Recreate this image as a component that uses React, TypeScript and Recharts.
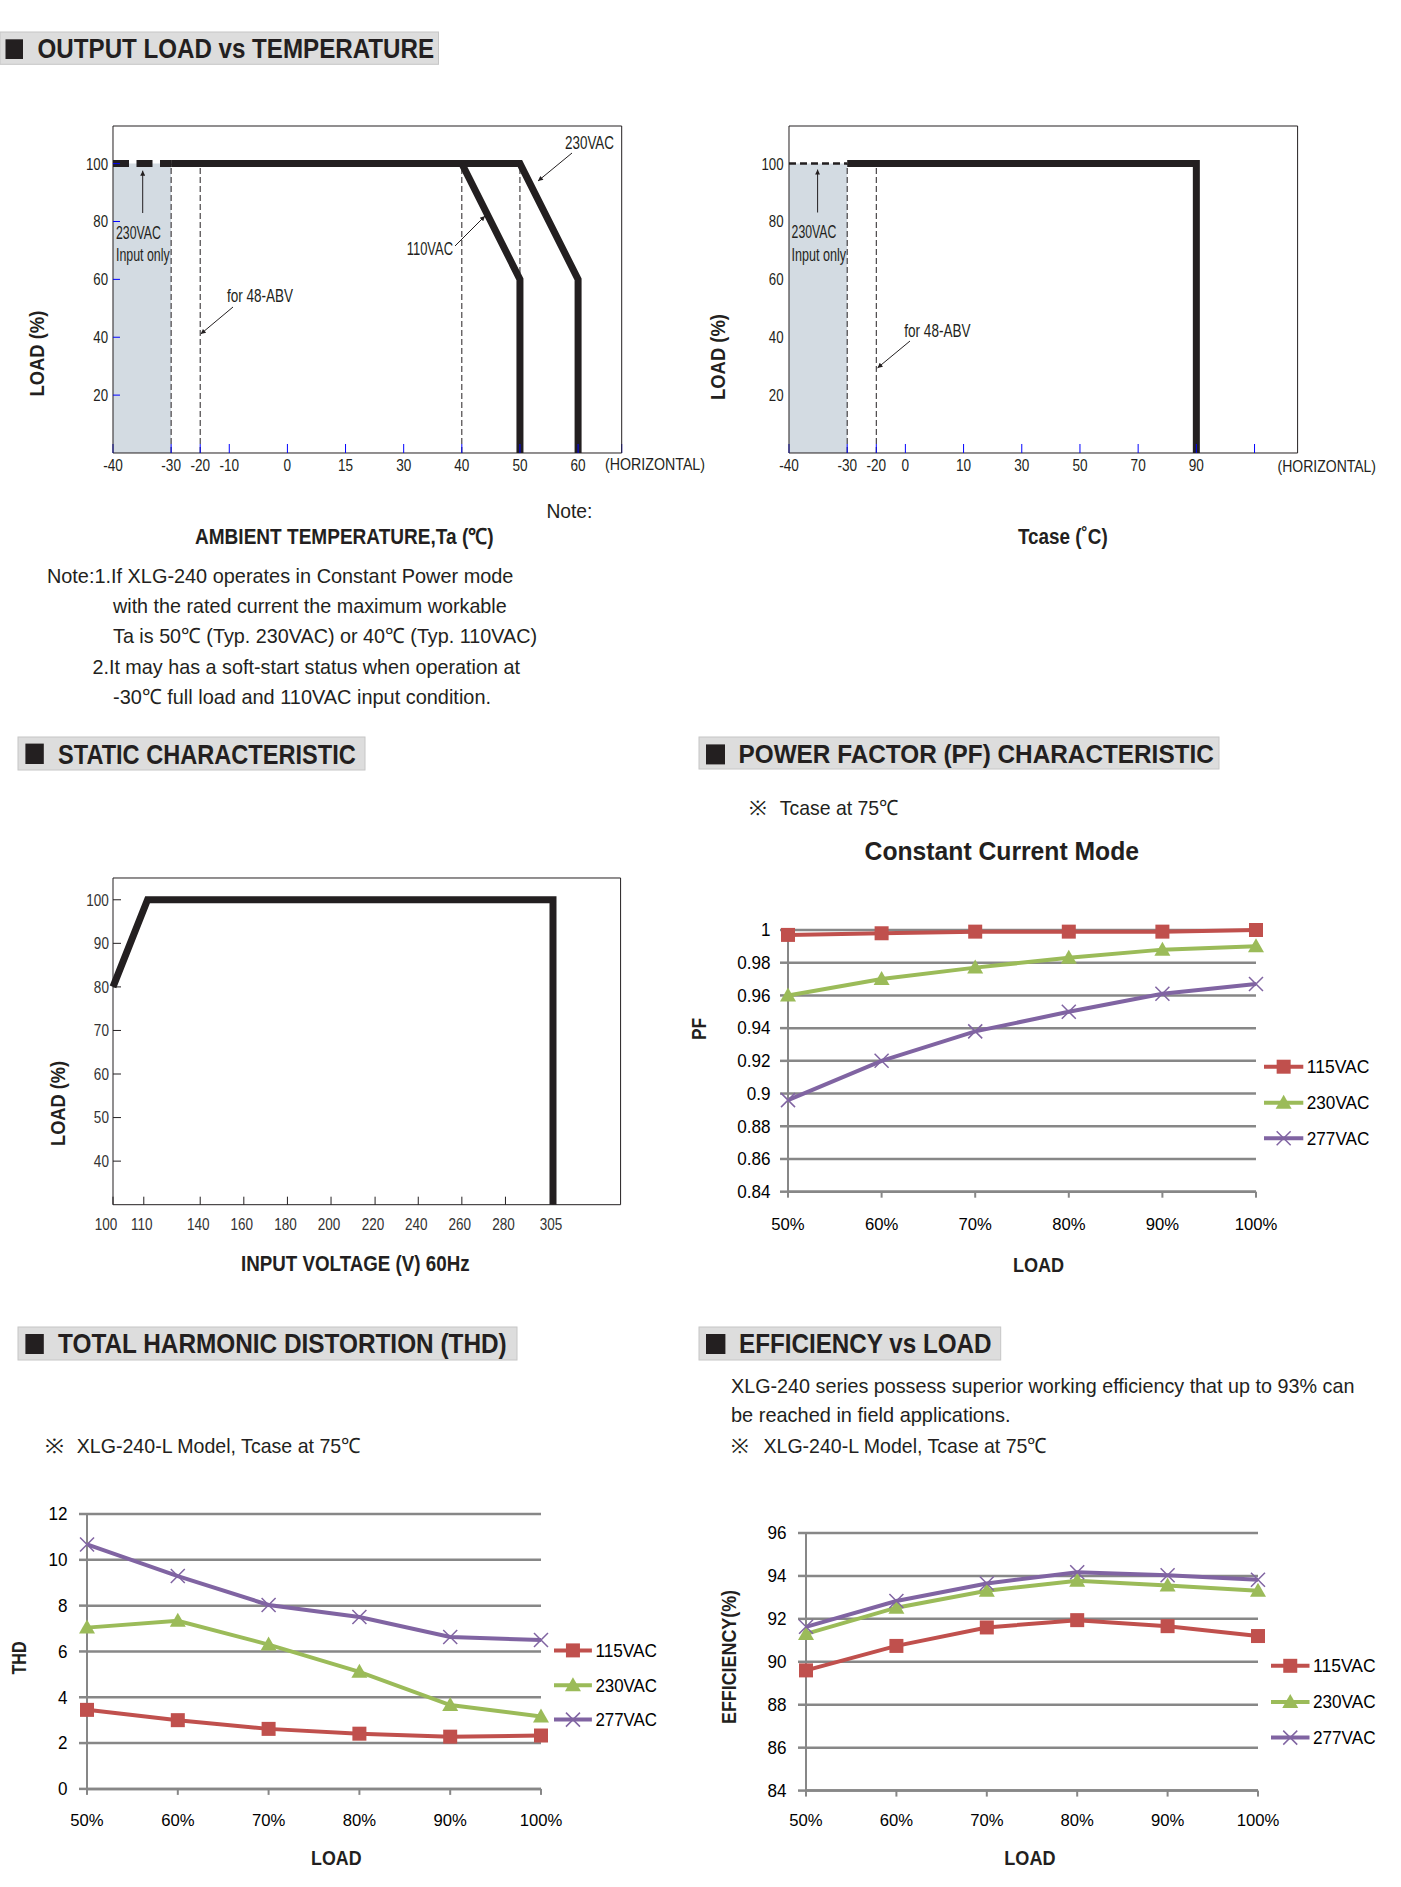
import React from 'react';
import {
    LineChart,
    Line,
    XAxis,
    YAxis,
    CartesianGrid,
    ReferenceLine,
    ReferenceArea,
    Legend,
} from 'recharts';

// colours
const INK = '#231f20';
const BLUE = '#0000ff';
const SHADE = '#d3dbe2';
const GRID = '#878787';
const RED = '#c0504d';
const GREEN = '#9bbb59';
const PURPLE = '#8064a2';
const FONT = '"Liberation Sans", Arial, Helvetica, sans-serif';

// ---- OUTPUT LOAD vs TEMPERATURE (ambient). The printed axis is not linear,
// every tick sits in its own slot, so values are mapped slot by slot.
const taTicks = [-40, -30, -20, -10, 0, 15, 30, 40, 50, 60];
const taSlots = [0, 1, 1.5, 2, 3, 4, 5, 6, 7, 8];
const taColdTemp = [-40, -30];
const taColdLoad = [100, 100];
const ta230Temp = [-30, 50, 60, 60];
const ta230Load = [100, 100, 60, 0];
const ta110Temp = [40, 50, 50];
const ta110Load = [100, 60, 0];
const taGuides = [-30, -20, 40, 50];
const loadTicks = [20, 40, 60, 80, 100];

// ---- OUTPUT LOAD vs Tcase
const tcTicks = [-40, -30, -20, 0, 10, 30, 50, 70, 90];
const tcSlots = [0, 1, 1.5, 2, 3, 4, 5, 6, 7];
const tcColdTemp = [-40, -30];
const tcColdLoad = [100, 100];
const tcTemp = [-30, 90, 90];
const tcLoad = [100, 100, 0];
const tcGuides = [-30, -20];

// ---- STATIC CHARACTERISTIC
const vinTicks = [100, 110, 140, 160, 180, 200, 220, 240, 260, 280, 305];
const vinSlots = [0, 0.706, 2, 3, 4, 5, 6.01, 7, 8, 9, 10.09];
const vinVolt = [100, 112, 305, 305];
const vinLoad = [80, 100, 100, 30];
const staticTicks = [40, 50, 60, 70, 80, 90, 100];

// ---- PF / THD / EFFICIENCY vs load
const loadPct = [50, 60, 70, 80, 90, 100];
const pf115 = [0.997, 0.998, 0.999, 0.999, 0.999, 1.0];
const pf230 = [0.96, 0.97, 0.977, 0.983, 0.988, 0.99];
const pf277 = [0.896, 0.92, 0.938, 0.95, 0.961, 0.967];
const pfTicks = [0.84, 0.86, 0.88, 0.9, 0.92, 0.94, 0.96, 0.98, 1];
const thd115 = [3.45, 3.0, 2.62, 2.41, 2.28, 2.33];
const thd230 = [7.04, 7.34, 6.3, 5.11, 3.66, 3.16];
const thd277 = [10.67, 9.29, 8.03, 7.5, 6.63, 6.5];
const thdTicks = [0, 2, 4, 6, 8, 10, 12];
const eff115 = [89.6, 90.74, 91.6, 91.94, 91.66, 91.2];
const eff230 = [91.3, 92.52, 93.31, 93.77, 93.55, 93.31];
const eff277 = [91.63, 92.83, 93.65, 94.17, 94.03, 93.82];
const effTicks = [84, 86, 88, 90, 92, 94, 96];

const series = [
    { key: 'a', name: '115VAC', color: RED, kind: 'square' },
    { key: 'b', name: '230VAC', color: GREEN, kind: 'triangle' },
    { key: 'c', name: '277VAC', color: PURPLE, kind: 'cross' },
];

// helpers
const toSlot = (ticks: number[], slots: number[]) => (v: number) => {
    for (let i = 0; i < ticks.length - 1; i++) {
        if (v <= ticks[i + 1]) {
            return slots[i] + ((v - ticks[i]) / (ticks[i + 1] - ticks[i])) * (slots[i + 1] - slots[i]);
        }
    }
    return slots[slots.length - 1];
};
const slotLabel = (ticks: number[], slots: number[]) => (v: number) => {
    const i = slots.findIndex((s) => Math.abs(s - v) < 1e-6);
    return i < 0 ? '' : String(ticks[i]);
};
const pts = (xs: number[], ys: number[], f: (v: number) => number) =>
    xs.map((x, i) => ({ x: f(x), y: ys[i] }));
const byLoad = (a: number[], b: number[], c: number[]) =>
    loadPct.map((x, i) => ({ x, a: a[i], b: b[i], c: c[i] }));

const taSlot = toSlot(taTicks, taSlots);
const tcSlot = toSlot(tcTicks, tcSlots);
const vinSlot = toSlot(vinTicks, vinSlots);

type Box = { l: number; t: number; r: number; b: number };
const place = (p: Box, pad: Box) => ({
    left: p.l - pad.l,
    top: p.t - pad.t,
    width: p.r - p.l + pad.l + pad.r,
    height: p.b - p.t + pad.t + pad.b,
});

const narrowTick = (
    fmt: (v: number) => string,
    size: number,
    sx: number,
    fill = INK,
    shift: (v: number) => number = () => 0,
) => (p: any) => (
    <text
        transform={`translate(${p.x + shift(p.payload.value)},${p.y}) scale(${sx},1)`}
        textAnchor={p.textAnchor}
        dy="0.35em"
        fontSize={size}
        fontFamily={FONT}
        fill={fill}
    >
        {fmt(p.payload.value)}
    </text>
);
const noTick = () => <g />;

const Marker = ({ cx, cy, kind, color }: any) => {
    if (cx == null || cy == null) return null;
    if (kind === 'square') return <rect x={cx - 7} y={cy - 7} width={14} height={14} fill={color} />;
    if (kind === 'triangle')
        return <polygon points={`${cx},${cy - 8} ${cx + 8},${cy + 6} ${cx - 8},${cy + 6}`} fill={color} />;
    return (
        <g stroke={color} strokeWidth={1.5}>
            <line x1={cx - 7} y1={cy - 7} x2={cx + 7} y2={cy + 7} />
            <line x1={cx - 7} y1={cy + 7} x2={cx + 7} y2={cy - 7} />
        </g>
    );
};
const markerDot = (kind: string, color: string) => (p: any) => (
    <Marker key={`m${p.index}`} cx={p.cx} cy={p.cy} kind={kind} color={color} />
);

const legendContent = (rows: number[], lineLen: number, labelW: number) => () => (
    <svg width={130} height={rows[rows.length - 1] + 20} style={{ display: 'block', overflow: 'visible' }}>
        {series.map((s, i) => (
            <g key={s.name}>
                <line x1={0} x2={lineLen} y1={rows[i]} y2={rows[i]} stroke={s.color} strokeWidth={4} />
                <Marker cx={lineLen / 2} cy={rows[i]} kind={s.kind} color={s.color} />
                <text
                    x={lineLen + 3.5}
                    y={rows[i]}
                    dy="0.35em"
                    fontSize={18}
                    fontFamily={FONT}
                    textLength={labelW}
                    lengthAdjust="spacingAndGlyphs"
                    fill="#000"
                >
                    {s.name}
                </text>
            </g>
        ))}
    </svg>
);

// text on the page overlay, squeezed to the width it has in the datasheet
const T = ({ x, y, w, size, bold, anchor, rot, children }: any) => (
    <text
        x={x}
        y={y}
        dy="0.35em"
        fontSize={size}
        fontWeight={bold ? 700 : 400}
        textLength={w}
        lengthAdjust="spacingAndGlyphs"
        textAnchor={anchor || 'start'}
        fill={INK}
        transform={rot ? `rotate(-90 ${x} ${y})` : undefined}
    >
        {children}
    </text>
);

const Header = ({ x, y, w, h, sq, tx, tw, size, children }: any) => (
    <g>
        <rect x={x} y={y} width={w} height={h} fill="#dddddd" stroke="#c6c6c6" />
        <rect x={sq[0]} y={sq[1]} width={sq[2]} height={sq[3]} fill={INK} />
        <T x={tx} y={y + h / 2 + 0.5} w={tw} size={size} bold>
            {children}
        </T>
    </g>
);

const Arrow = ({ x1, y1, x2, y2 }: any) => (
    <line x1={x1} y1={y1} x2={x2} y2={y2} stroke={INK} strokeWidth={1} markerEnd="url(#ah)" />
);

// ---------------- charts ----------------
const noMargin = { top: 0, right: 0, bottom: 0, left: 0 };

function AmbientChart() {
    const p = { l: 113.3, t: 125.5, r: 622, b: 452.5 };
    const g = place(p, { l: 60, t: 10, r: 20, b: 40 });
    const max = 8.75;
    return (
        <div style={{ position: 'absolute', left: g.left, top: g.top }}>
            <LineChart width={g.width} height={g.height} margin={noMargin}>
                <XAxis dataKey="x" type="number" domain={[0, max]} ticks={[...taSlots, max]} interval={0} height={40}
                    axisLine={{ stroke: INK }} tickLine={{ stroke: BLUE }} tickSize={-9} tickMargin={20.8}
                    tick={narrowTick(slotLabel(taTicks, taSlots), 17, 0.8)} />
                <XAxis xAxisId="top" orientation="top" type="number" domain={[0, max]} height={10}
                    axisLine={{ stroke: INK }} tickLine={false} tick={noTick} />
                <YAxis type="number" domain={[0, 113]} ticks={loadTicks} interval={0} width={60}
                    axisLine={{ stroke: INK }} tickLine={{ stroke: BLUE }} tickSize={-7} tickMargin={11.9}
                    tick={narrowTick(String, 17, 0.78)} />
                <YAxis yAxisId="right" orientation="right" type="number" domain={[0, 113]} ticks={loadTicks}
                    interval={0} width={20} axisLine={{ stroke: INK }} tickLine={{ stroke: BLUE }} tickSize={-8}
                    tick={noTick} />
                <ReferenceArea x1={taSlot(-40)} x2={taSlot(-30)} y1={0} y2={100} fill={SHADE} fillOpacity={1}
                    stroke="none" />
                {taGuides.map((t) => (
                    <ReferenceLine key={t} segment={[{ x: taSlot(t), y: 0 }, { x: taSlot(t), y: 100 }]}
                        stroke={INK} strokeDasharray="6 3" />
                ))}
                <Line data={pts(taColdTemp, taColdLoad, taSlot)} dataKey="y" stroke={INK} strokeWidth={7}
                    strokeDasharray="16 7.5" dot={false} activeDot={false} isAnimationActive={false} />
                <Line data={pts(ta230Temp, ta230Load, taSlot)} dataKey="y" stroke={INK} strokeWidth={7}
                    dot={false} activeDot={false} isAnimationActive={false} />
                <Line data={pts(ta110Temp, ta110Load, taSlot)} dataKey="y" stroke={INK} strokeWidth={7}
                    dot={false} activeDot={false} isAnimationActive={false} />
            </LineChart>
        </div>
    );
}

function TcaseChart() {
    const p = { l: 789.4, t: 125.5, r: 1298, b: 452.5 };
    const g = place(p, { l: 60, t: 10, r: 20, b: 40 });
    const max = 8.74;
    return (
        <div style={{ position: 'absolute', left: g.left, top: g.top }}>
            <LineChart width={g.width} height={g.height} margin={noMargin}>
                <XAxis dataKey="x" type="number" domain={[0, max]} ticks={[...tcSlots, 8]} interval={0} height={40}
                    axisLine={{ stroke: INK }} tickLine={{ stroke: BLUE }} tickSize={-9} tickMargin={20.8}
                    tick={narrowTick(slotLabel(tcTicks, tcSlots), 17, 0.8)} />
                <XAxis xAxisId="top" orientation="top" type="number" domain={[0, max]} height={10}
                    axisLine={{ stroke: INK }} tickLine={false} tick={noTick} />
                <YAxis type="number" domain={[0, 113]} ticks={loadTicks} interval={0} width={60}
                    axisLine={{ stroke: INK }} tickLine={false} tickSize={0} tickMargin={5.4}
                    tick={narrowTick(String, 17, 0.78)} />
                <YAxis yAxisId="right" orientation="right" type="number" domain={[0, 113]} ticks={loadTicks}
                    interval={0} width={20} axisLine={{ stroke: INK }} tickLine={{ stroke: BLUE }} tickSize={-8}
                    tick={noTick} />
                <ReferenceArea x1={tcSlot(-40)} x2={tcSlot(-30)} y1={0} y2={100} fill={SHADE} fillOpacity={1}
                    stroke="none" />
                {tcGuides.map((t) => (
                    <ReferenceLine key={t} segment={[{ x: tcSlot(t), y: 0 }, { x: tcSlot(t), y: 100 }]}
                        stroke={INK} strokeDasharray="6 3" />
                ))}
                <Line data={pts(tcColdTemp, tcColdLoad, tcSlot)} dataKey="y" stroke={INK} strokeWidth={2.5}
                    strokeDasharray="7 4" dot={false} activeDot={false} isAnimationActive={false} />
                <Line data={pts(tcTemp, tcLoad, tcSlot)} dataKey="y" stroke={INK} strokeWidth={7}
                    dot={false} activeDot={false} isAnimationActive={false} />
            </LineChart>
        </div>
    );
}

function StaticChart() {
    const p = { l: 113.4, t: 878.3, r: 621, b: 1205 };
    const g = place(p, { l: 60, t: 10, r: 20, b: 40 });
    const max = 11.64;
    // the printed labels sit a little left of their ticks, the first one more so
    const shift = (v: number) => (v === 0 ? -7 : -2);
    return (
        <div style={{ position: 'absolute', left: g.left, top: g.top }}>
            <LineChart width={g.width} height={g.height} margin={noMargin}>
                <XAxis dataKey="x" type="number" domain={[0, max]} ticks={vinSlots} interval={0} height={40}
                    axisLine={{ stroke: INK }} tickLine={{ stroke: INK }} tickSize={-8} tickMargin={27.4}
                    tick={narrowTick(slotLabel(vinTicks, vinSlots), 16.5, 0.82, '#333', shift)} />
                <XAxis xAxisId="top" orientation="top" type="number" domain={[0, max]} height={10}
                    axisLine={{ stroke: INK }} tickLine={false} tick={noTick} />
                <YAxis type="number" domain={[30, 105]} ticks={staticTicks} interval={0} width={60}
                    axisLine={{ stroke: INK }} tickLine={{ stroke: INK }} tickSize={-8} tickMargin={12.1}
                    tick={narrowTick(String, 16.5, 0.82, '#333')} />
                <YAxis yAxisId="right" orientation="right" type="number" domain={[30, 105]} ticks={staticTicks}
                    interval={0} width={20} axisLine={{ stroke: INK }} tickLine={{ stroke: INK }} tickSize={-8}
                    tick={noTick} />
                <Line data={pts(vinVolt, vinLoad, vinSlot)} dataKey="y" stroke={INK} strokeWidth={7}
                    dot={false} activeDot={false} isAnimationActive={false} />
            </LineChart>
        </div>
    );
}

function LoadChart({ plot, data, domain, ticks, fmt, tickMargins, legend }: any) {
    const pad = { l: 80, t: 20, r: 110, b: 50 };
    const g = place(plot, pad);
    return (
        <div style={{ position: 'absolute', left: g.left, top: g.top }}>
            <LineChart width={g.width} height={g.height} data={data}
                margin={{ top: pad.t, right: pad.r, bottom: 0, left: 0 }}>
                <CartesianGrid vertical={false} stroke={GRID} strokeWidth={2.5} />
                <XAxis dataKey="x" type="number" domain={[50, 100]} ticks={loadPct} interval={0} height={pad.b}
                    axisLine={{ stroke: GRID, strokeWidth: 2.5 }} tickLine={{ stroke: GRID, strokeWidth: 2 }}
                    tickSize={6} tickMargin={tickMargins[0]} tick={narrowTick((v) => `${v}%`, 17, 0.98, '#000')} />
                <YAxis type="number" domain={domain} ticks={ticks} interval={0} width={pad.l}
                    axisLine={{ stroke: GRID, strokeWidth: 2 }} tickLine={{ stroke: GRID, strokeWidth: 2.5 }}
                    tickSize={8} tickMargin={tickMargins[1]} tick={narrowTick(fmt, 18, 0.95, '#000')} />
                <Legend layout="vertical" align="center" verticalAlign="middle"
                    wrapperStyle={{ left: legend.x - g.left, top: legend.y - g.top, width: 130, margin: 0, padding: 0, lineHeight: 0 }}
                    content={legendContent(legend.rows, legend.len, legend.w)} />
                {series.map((s) => (
                    <Line key={s.key} dataKey={s.key} name={s.name} stroke={s.color} strokeWidth={4}
                        dot={markerDot(s.kind, s.color)} activeDot={false} isAnimationActive={false} />
                ))}
            </LineChart>
        </div>
    );
}

export default function App() {
    return (
        <div style={{ position: 'absolute', left: 0, top: 0, width: 1401, height: 1887, background: '#fff', fontFamily: FONT, overflow: 'hidden' }}>
            <AmbientChart />
            <TcaseChart />
            <StaticChart />
            <LoadChart
                plot={{ l: 788, t: 930, r: 1256, b: 1191.7 }}
                data={byLoad(pf115, pf230, pf277)}
                domain={[0.84, 1]}
                ticks={pfTicks}
                fmt={(v: number) => String(Number(v.toFixed(2)))}
                tickMargins={[26.2, 9.6]}
                legend={{ x: 1264, y: 1050, rows: [16.7, 52.7, 88.3], len: 39.3, w: 62.6 }}
            />
            <LoadChart
                plot={{ l: 87, t: 1513.5, r: 541, b: 1788.4 }}
                data={byLoad(thd115, thd230, thd277)}
                domain={[0, 12]}
                ticks={thdTicks}
                fmt={String}
                tickMargins={[25.3, 11.5]}
                legend={{ x: 553.6, y: 1630, rows: [20.4, 55.3, 89.6], len: 37.9, w: 61.6 }}
            />
            <LoadChart
                plot={{ l: 806, t: 1532.6, r: 1258, b: 1790.2 }}
                data={byLoad(eff115, eff230, eff277)}
                domain={[84, 96]}
                ticks={effTicks}
                fmt={String}
                tickMargins={[23.8, 11.4]}
                legend={{ x: 1270.5, y: 1645, rows: [20.8, 56.9, 92.6], len: 38.5, w: 62.6 }}
            />

            <svg width={1401} height={1887} style={{ position: 'absolute', left: 0, top: 0, pointerEvents: 'none' }}
                fontFamily={FONT}>
                <defs>
                    <marker id="ah" viewBox="0 0 10 10" refX="10" refY="5" markerWidth="9" markerHeight="5"
                        markerUnits="userSpaceOnUse" orient="auto">
                        <path d="M0,0 L10,5 L0,10 z" fill={INK} />
                    </marker>
                </defs>

                {/* section headers */}
                <Header x={0} y={32} w={438.5} h={32.3} sq={[5.5, 39.3, 17.5, 19.7]} tx={37.6} tw={396.4} size={27.5}>
                    OUTPUT LOAD vs TEMPERATURE
                </Header>
                <Header x={18} y={737} w={347} h={33} sq={[25.4, 743.6, 18.4, 20.4]} tx={58} tw={297.8} size={28.5}>
                    STATIC CHARACTERISTIC
                </Header>
                <Header x={699} y={737} w={520} h={32} sq={[706, 744.4, 19, 20]} tx={738.5} tw={475.3} size={26}>
                    POWER FACTOR (PF) CHARACTERISTIC
                </Header>
                <Header x={18} y={1327} w={499} h={33} sq={[25.4, 1334, 18.4, 20]} tx={58} tw={448.7} size={27}>
                    TOTAL HARMONIC DISTORTION (THD)
                </Header>
                <Header x={699} y={1327} w={301.7} h={33} sq={[706, 1334, 19.4, 20]} tx={739} tw={252.6} size={27}>
                    EFFICIENCY vs LOAD
                </Header>

                {/* ambient derating */}
                <T x={36.7} y={353.6} w={86} size={20} bold anchor="middle" rot>LOAD (%)</T>
                <T x={605} y={464.3} w={100} size={17}>(HORIZONTAL)</T>
                <T x={195} y={536} w={298.6} size={22} bold>AMBIENT TEMPERATURE,Ta (℃)</T>
                <T x={546.4} y={510.5} w={46} size={21}>Note:</T>
                <T x={565} y={142.7} w={49} size={18}>230VAC</T>
                <Arrow x1={572} y1={153} x2={538} y2={181} />
                <T x={406.7} y={249} w={46.3} size={18}>110VAC</T>
                <Arrow x1={455} y1={246} x2={485} y2={216} />
                <T x={227} y={295.7} w={66} size={18}>for 48-ABV</T>
                <Arrow x1={233} y1={307} x2={200.7} y2={334} />
                <T x={116} y={233} w={45} size={18}>230VAC</T>
                <T x={116} y={255} w={53.7} size={18}>Input only</T>
                <Arrow x1={142.7} y1={213} x2={142.7} y2={170.7} />

                {/* Tcase derating */}
                <T x={717.9} y={357} w={86} size={20} bold anchor="middle" rot>LOAD (%)</T>
                <T x={1277.6} y={466} w={98.4} size={17}>(HORIZONTAL)</T>
                <T x={1018} y={536} w={89.7} size={22} bold>Tcase (˚C)</T>
                <T x={791.6} y={231.4} w={44.7} size={18}>230VAC</T>
                <T x={791.6} y={254.3} w={54.5} size={18}>Input only</T>
                <Arrow x1={817.6} y1={212.5} x2={817.6} y2={169.6} />
                <T x={904.3} y={330.4} w={66.2} size={18}>for 48-ABV</T>
                <Arrow x1={910} y1={341} x2={877.5} y2={367.9} />

                {/* notes */}
                <T x={46.9} y={575.4} w={466.5} size={21}>Note:1.If XLG-240 operates in Constant Power mode</T>
                <T x={113} y={605.4} w={393.7} size={21}>with the rated current the maximum workable</T>
                <T x={113} y={635.5} w={424} size={21}>Ta is 50℃ (Typ. 230VAC) or 40℃ (Typ. 110VAC)</T>
                <T x={92.4} y={667} w={427.6} size={21}>2.It may has a soft-start status when operation at</T>
                <T x={113} y={696.6} w={378} size={21}>-30℃ full load and 110VAC input condition.</T>

                {/* static */}
                <T x={58} y={1103.5} w={85} size={20} bold anchor="middle" rot>LOAD (%)</T>
                <T x={241} y={1263.2} w={228.6} size={22} bold>INPUT VOLTAGE (V) 60Hz</T>

                {/* PF */}
                <T x={749} y={808} w={18} size={20}>※</T>
                <T x={779.8} y={808} w={118.8} size={21}>Tcase at 75℃</T>
                <T x={864.6} y={850.6} w={274.4} size={26} bold>Constant Current Mode</T>
                <T x={699} y={1029} w={22} size={20} bold anchor="middle" rot>PF</T>
                <T x={1012.9} y={1264.6} w={51.2} size={20.5} bold>LOAD</T>

                {/* THD */}
                <T x={44.6} y={1446} w={19.2} size={20}>※</T>
                <T x={76.8} y={1446} w={284} size={21}>XLG-240-L Model, Tcase at 75℃</T>
                <T x={19} y={1658} w={33} size={20} bold anchor="middle" rot>THD</T>
                <T x={311} y={1858} w={50.5} size={20.5} bold>LOAD</T>

                {/* efficiency */}
                <T x={731} y={1385.4} w={623.4} size={21}>XLG-240 series possess superior working efficiency that up to 93% can</T>
                <T x={731} y={1415} w={279.6} size={21}>be reached in field applications.</T>
                <T x={731} y={1446} w={18} size={20}>※</T>
                <T x={763.5} y={1446} w={283.5} size={21}>XLG-240-L Model, Tcase at 75℃</T>
                <T x={728.5} y={1657} w={134} size={20} bold anchor="middle" rot>EFFICIENCY(%)</T>
                <T x={1004.3} y={1858} w={51.2} size={20.5} bold>LOAD</T>
            </svg>
        </div>
    );
}
